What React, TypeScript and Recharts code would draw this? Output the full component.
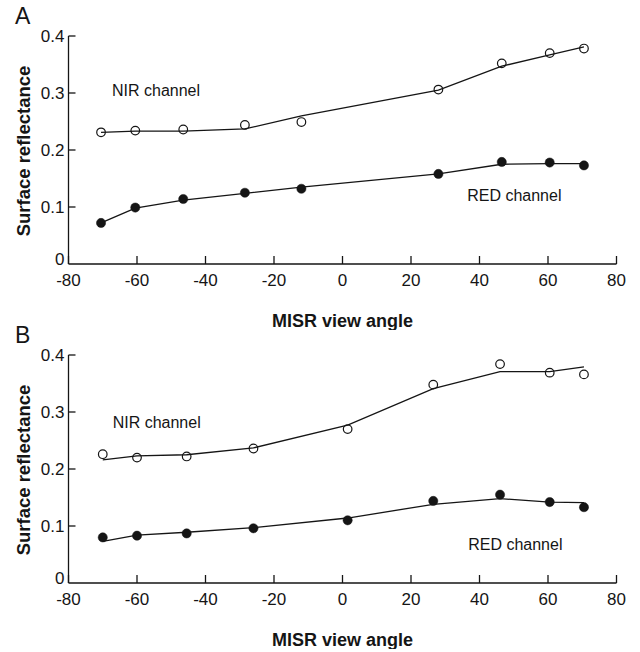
import React from "react";
import {
  ComposedChart,
  Line,
  XAxis,
  YAxis,
  ReferenceDot,
} from "recharts";

// Panel A: view angles, observed and fitted surface reflectance
const anglesA = [-70.5, -60.5, -46.5, -28.5, -12, 28, 46.5, 60.5, 70.5];
const nirObsA = [0.231, 0.234, 0.236, 0.244, 0.249, 0.306, 0.352, 0.37, 0.378];
const nirFitA = [0.231, 0.233, 0.233, 0.237, 0.26, 0.305, 0.347, 0.367, 0.381];
const redObsA = [0.072, 0.099, 0.114, 0.125, 0.132, 0.158, 0.179, 0.178, 0.173];
const redFitA = [0.072, 0.098, 0.112, 0.124, 0.135, 0.158, 0.175, 0.176, 0.176];

// Panel B
const anglesB = [-70, -60, -45.5, -26, 1.5, 26.5, 46, 60.5, 70.5];
const nirObsB = [0.226, 0.22, 0.222, 0.236, 0.27, 0.348, 0.384, 0.369, 0.366];
const nirFitB = [0.216, 0.223, 0.225, 0.237, 0.277, 0.341, 0.371, 0.371, 0.379];
const redObsB = [0.08, 0.083, 0.087, 0.096, 0.11, 0.144, 0.155, 0.142, 0.133];
const redFitB = [0.073, 0.084, 0.089, 0.097, 0.114, 0.138, 0.148, 0.142, 0.141];

const xTicks = [-80, -60, -40, -20, 0, 20, 40, 60, 80];
const yTicks = [0, 0.1, 0.2, 0.3, 0.4];

const xTitle = "MISR view angle";
const yTitle = "Surface reflectance";
const nirName = "NIR channel";
const redName = "RED channel";

// Annotation anchors in data units (angle, reflectance)
const nirLabelA = { x: -67.3, y: 0.294 };
const redLabelA = { x: 36.4, y: 0.11 };
const nirLabelB = { x: -67.1, y: 0.272 };
const redLabelB = { x: 36.7, y: 0.058 };

const FONT = '"Liberation Sans", Arial, Helvetica, sans-serif';
const INK = "#151515";

const XTick = (props: any) => {
  const { x, y, payload } = props;
  return (
    <g>
      <line x1={x} y1={y} x2={x} y2={y - 8} stroke={INK} strokeWidth={1.3} />
      <text
        x={x}
        y={y + 21.5}
        textAnchor="middle"
        fontFamily={FONT}
        fontSize={17}
        fill={INK}
      >
        {payload.value}
      </text>
    </g>
  );
};

const YTick = (props: any) => {
  const { x, y, payload } = props;
  const atOrigin = payload.value === 0;
  return (
    <g>
      {!atOrigin && (
        <line x1={x} y1={y} x2={x + 7} y2={y} stroke={INK} strokeWidth={1.3} />
      )}
      <text
        x={x - 4}
        y={atOrigin ? y + 1 : y + 6}
        textAnchor="end"
        fontFamily={FONT}
        fontSize={17}
        fill={INK}
      >
        {payload.value}
      </text>
    </g>
  );
};

const textShape = (text: string) => (p: any) =>
  (
    <text x={p.cx} y={p.cy} fontFamily={FONT} fontSize={16} fill={INK}>
      {text}
    </text>
  );

type PanelProps = {
  letter: string;
  angles: number[];
  nirObs: number[];
  nirFit: number[];
  redObs: number[];
  redFit: number[];
  nirLabel: { x: number; y: number };
  redLabel: { x: number; y: number };
};

const Panel = ({
  letter,
  angles,
  nirObs,
  nirFit,
  redObs,
  redFit,
  nirLabel,
  redLabel,
}: PanelProps) => {
  const rows = angles.map((a, i) => ({
    angle: a,
    nirObs: nirObs[i],
    nirFit: nirFit[i],
    redObs: redObs[i],
    redFit: redFit[i],
  }));
  return (
    <ComposedChart
      width={640}
      height={330}
      data={rows}
      margin={{ top: 36, right: 23.5, bottom: 0, left: 0 }}
    >
      <XAxis
        dataKey="angle"
        type="number"
        domain={[-80, 80]}
        ticks={xTicks}
        interval={0}
        height={66}
        tickSize={0}
        tickMargin={0}
        tick={XTick}
        axisLine={{ stroke: INK, strokeWidth: 1.3 }}
        label={{
          content: (p: any) => (
            <text
              x={p.viewBox.x + p.viewBox.width / 2}
              y={p.viewBox.y + 63}
              textAnchor="middle"
              fontFamily={FONT}
              fontSize={18}
              fontWeight="bold"
              fill={INK}
            >
              {xTitle}
            </text>
          ),
        }}
      />
      <YAxis
        type="number"
        domain={[0, 0.4]}
        ticks={yTicks}
        interval={0}
        width={68.5}
        tickSize={0}
        tickMargin={0}
        tick={YTick}
        axisLine={{ stroke: INK, strokeWidth: 1.3 }}
        label={{
          content: (p: any) => {
            const cy = p.viewBox.y + p.viewBox.height / 2 + 1;
            return (
              <g>
                <text
                  x={15}
                  y={p.viewBox.y - 12}
                  fontFamily={FONT}
                  fontSize={23}
                  fill={INK}
                >
                  {letter}
                </text>
                <text
                  x={30}
                  y={cy}
                  transform={`rotate(-90, 30, ${cy})`}
                  textAnchor="middle"
                  fontFamily={FONT}
                  fontSize={18.5}
                  fontWeight="bold"
                  fill={INK}
                >
                  {yTitle}
                </text>
              </g>
            );
          },
        }}
      />
      <Line
        dataKey="nirFit"
        stroke={INK}
        strokeWidth={1.3}
        dot={false}
        isAnimationActive={false}
      />
      <Line
        dataKey="redFit"
        stroke={INK}
        strokeWidth={1.3}
        dot={false}
        isAnimationActive={false}
      />
      <Line
        dataKey="nirObs"
        stroke="none"
        dot={{ r: 4.3, fill: "none", stroke: INK, strokeWidth: 1.2 }}
        isAnimationActive={false}
      />
      <Line
        dataKey="redObs"
        stroke="none"
        dot={{ r: 4.6, fill: INK, stroke: INK, strokeWidth: 0.5 }}
        isAnimationActive={false}
      />
      <ReferenceDot
        x={nirLabel.x}
        y={nirLabel.y}
        r={0}
        shape={textShape(nirName)}
      />
      <ReferenceDot
        x={redLabel.x}
        y={redLabel.y}
        r={0}
        shape={textShape(redName)}
      />
    </ComposedChart>
  );
};

export default function App() {
  return (
    <div
      style={{
        position: "absolute",
        left: 0,
        top: 0,
        width: 640,
        height: 652,
        background: "#fff",
      }}
    >
      <div style={{ position: "absolute", left: 0, top: 0 }}>
        <Panel
          letter="A"
          angles={anglesA}
          nirObs={nirObsA}
          nirFit={nirFitA}
          redObs={redObsA}
          redFit={redFitA}
          nirLabel={nirLabelA}
          redLabel={redLabelA}
        />
      </div>
      <div style={{ position: "absolute", left: 0, top: 318.5 }}>
        <Panel
          letter="B"
          angles={anglesB}
          nirObs={nirObsB}
          nirFit={nirFitB}
          redObs={redObsB}
          redFit={redFitB}
          nirLabel={nirLabelB}
          redLabel={redLabelB}
        />
      </div>
    </div>
  );
}
